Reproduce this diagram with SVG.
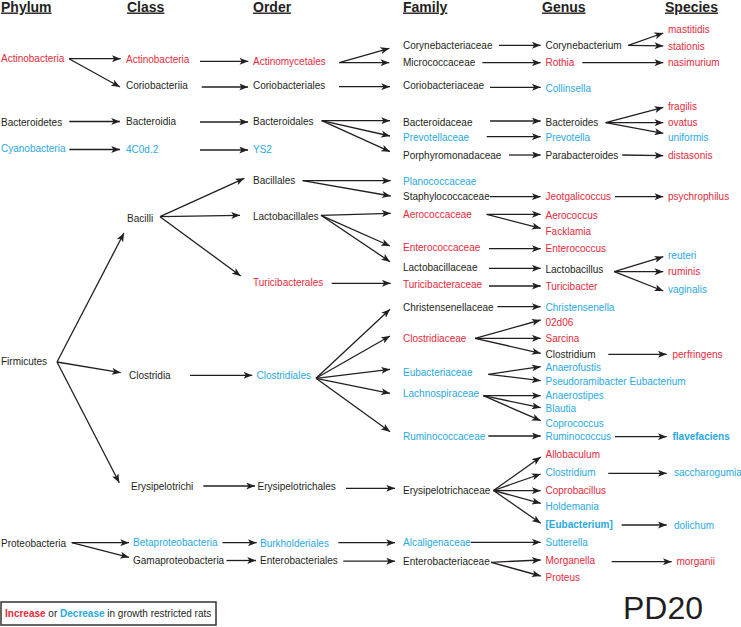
<svg xmlns="http://www.w3.org/2000/svg" width="741" height="627" viewBox="0 0 741 627">
<style>
text{font-family:"Liberation Sans",Arial,sans-serif;font-size:10px;fill:#231f20}
.h{font-size:14px;font-weight:bold;text-decoration:underline}
.r{fill:#e52a3c}
.b{fill:#29a9e0}
.bb{fill:#29a9e0;font-weight:bold}
.rb{fill:#e52a3c;font-weight:bold}
.c line{stroke:#231f20;stroke-width:1.3;marker-end:url(#ah)}
.pd{font-size:32px}
</style>
<defs>
<marker id="ah" viewBox="0 0 10 8" refX="10" refY="4" markerWidth="9" markerHeight="7" orient="auto" markerUnits="userSpaceOnUse"><path d="M0,0 L10,4 L0,8 L2.5,4 z" fill="#231f20"/></marker>
</defs>
<rect width="741" height="627" fill="#fff"/>
<g id="headers">
<text class="h" x="1" y="11.5">Phylum</text>
<text class="h" x="127" y="11.5">Class</text>
<text class="h" x="253" y="11.5">Order</text>
<text class="h" x="403" y="11.5">Family</text>
<text class="h" x="542" y="11.5">Genus</text>
<text class="h" x="665" y="11.5">Species</text>
</g>
<g id="p-actinobacteria"><text class="r" x="1" y="62">Actinobacteria</text></g>
<g id="p-bacteroidetes"><text x="1" y="126">Bacteroidetes</text></g>
<g id="p-cyanobacteria"><text class="b" x="1" y="152">Cyanobacteria</text></g>
<g id="p-firmicutes"><text x="1" y="365">Firmicutes</text></g>
<g id="p-proteobacteria"><text x="1" y="547">Proteobacteria</text></g>

<g id="c-actinobacteria"><text class="r" x="126" y="62.5">Actinobacteria</text></g>
<g id="c-coriobacteriia"><text x="126" y="89">Coriobacteriia</text></g>
<g id="c-bacteroidia"><text x="126" y="125">Bacteroidia</text></g>
<g id="c-4c0d2"><text class="b" x="126" y="153">4C0d.2</text></g>
<g id="c-bacilli"><text x="127" y="222">Bacilli</text></g>
<g id="c-clostridia"><text x="129" y="379">Clostridia</text></g>
<g id="c-erysipelotrichi"><text x="131" y="490">Erysipelotrichi</text></g>
<g id="c-betaproteobacteria"><text class="b" x="133" y="546">Betaproteobacteria</text></g>
<g id="c-gamaproteobacteria"><text x="133" y="564">Gamaproteobacteria</text></g>

<g id="o-actinomycetales"><text class="r" x="253" y="65">Actinomycetales</text></g>
<g id="o-coriobacteriales"><text x="253" y="89">Coriobacteriales</text></g>
<g id="o-bacteroidales"><text x="253" y="125">Bacteroidales</text></g>
<g id="o-ys2"><text class="b" x="253" y="153">YS2</text></g>
<g id="o-bacillales"><text x="253" y="184">Bacillales</text></g>
<g id="o-lactobacillales"><text x="253" y="219.5">Lactobacillales</text></g>
<g id="o-turicibacterales"><text class="r" x="253" y="286">Turicibacterales</text></g>
<g id="o-clostridiales"><text class="b" x="256.5" y="379">Clostridiales</text></g>
<g id="o-erysipelotrichales"><text x="257.5" y="490">Erysipelotrichales</text></g>
<g id="o-burkholderiales"><text class="b" x="260" y="546.5">Burkholderiales</text></g>
<g id="o-enterobacteriales"><text x="260" y="564">Enterobacteriales</text></g>

<g id="f-corynebacteriaceae"><text x="403" y="49">Corynebacteriaceae</text></g>
<g id="f-micrococcaceae"><text x="403" y="66">Micrococcaceae</text></g>
<g id="f-coriobacteriaceae"><text x="403" y="89">Coriobacteriaceae</text></g>
<g id="f-bacteroidaceae"><text x="403" y="126">Bacteroidaceae</text></g>
<g id="f-prevotellaceae"><text class="b" x="403" y="141">Prevotellaceae</text></g>
<g id="f-porphyromonadaceae"><text x="403" y="159">Porphyromonadaceae</text></g>
<g id="f-planococcaceae"><text class="b" x="403" y="184.5">Planococcaceae</text></g>
<g id="f-staphylococcaceae"><text x="403" y="200">Staphylococcaceae</text></g>
<g id="f-aerococcaceae"><text class="r" x="403" y="218">Aerococcaceae</text></g>
<g id="f-enterococcaceae"><text class="r" x="403" y="251">Enterococcaceae</text></g>
<g id="f-lactobacillaceae"><text x="403" y="271">Lactobacillaceae</text></g>
<g id="f-turicibacteraceae"><text class="r" x="403" y="287.5">Turicibacteraceae</text></g>
<g id="f-christensenellaceae"><text x="403" y="311">Christensenellaceae</text></g>
<g id="f-clostridiaceae"><text class="r" x="403" y="342">Clostridiaceae</text></g>
<g id="f-eubacteriaceae"><text class="b" x="403" y="376">Eubacteriaceae</text></g>
<g id="f-lachnospiraceae"><text class="b" x="403" y="397">Lachnospiraceae</text></g>
<g id="f-ruminococcaceae"><text class="b" x="403" y="439.5">Ruminococcaceae</text></g>
<g id="f-erysipelotrichaceae"><text x="403" y="493.5">Erysipelotrichaceae</text></g>
<g id="f-alcaligenaceae"><text class="b" x="403" y="546">Alcaligenaceae</text></g>
<g id="f-enterobacteriaceae"><text x="403" y="565">Enterobacteriaceae</text></g>

<g id="g-corynebacterium"><text x="545.5" y="49">Corynebacterium</text></g>
<g id="g-rothia"><text class="r" x="545.5" y="66">Rothia</text></g>
<g id="g-collinsella"><text class="b" x="545.5" y="92">Collinsella</text></g>
<g id="g-bacteroides"><text x="545.5" y="126">Bacteroides</text></g>
<g id="g-prevotella"><text class="b" x="545.5" y="141">Prevotella</text></g>
<g id="g-parabacteroides"><text x="545.5" y="159">Parabacteroides</text></g>
<g id="g-jeotgalicoccus"><text class="r" x="545.5" y="200">Jeotgalicoccus</text></g>
<g id="g-aerococcus"><text class="r" x="545.5" y="218.5">Aerococcus</text></g>
<g id="g-facklamia"><text class="r" x="545.5" y="235">Facklamia</text></g>
<g id="g-enterococcus"><text class="r" x="545.5" y="252">Enterococcus</text></g>
<g id="g-lactobacillus"><text x="545.5" y="273">Lactobacillus</text></g>
<g id="g-turicibacter"><text class="r" x="545.5" y="290">Turicibacter</text></g>
<g id="g-christensenella"><text class="b" x="545.5" y="311">Christensenella</text></g>
<g id="g-02d06"><text class="r" x="545.5" y="326">02d06</text></g>
<g id="g-sarcina"><text class="r" x="545.5" y="342">Sarcina</text></g>
<g id="g-clostridium-1"><text x="545.5" y="357.5">Clostridium</text></g>
<g id="g-anaerofustis"><text class="b" x="545.5" y="371">Anaerofustis</text></g>
<g id="g-pseudoramibacter"><text class="b" x="545.5" y="385">Pseudoramibacter Eubacterium</text></g>
<g id="g-anaerostipes"><text class="b" x="545.5" y="398.5">Anaerostipes</text></g>
<g id="g-blautia"><text class="b" x="545.5" y="412">Blautia</text></g>
<g id="g-coprococcus"><text class="b" x="545.5" y="427">Coprococcus</text></g>
<g id="g-ruminococcus"><text class="b" x="545.5" y="440">Ruminococcus</text></g>
<g id="g-allobaculum"><text class="r" x="545.5" y="457.5">Allobaculum</text></g>
<g id="g-clostridium-2"><text class="b" x="545.5" y="476">Clostridium</text></g>
<g id="g-coprobacillus"><text class="r" x="545.5" y="494">Coprobacillus</text></g>
<g id="g-holdemania"><text class="b" x="545.5" y="509.5">Holdemania</text></g>
<g id="g-eubacterium"><text class="bb" x="545.5" y="528">[Eubacterium]</text></g>
<g id="g-sutterella"><text class="b" x="545.5" y="546">Sutterella</text></g>
<g id="g-morganella"><text class="r" x="545.5" y="564">Morganella</text></g>
<g id="g-proteus"><text class="r" x="545.5" y="581">Proteus</text></g>

<g id="s-mastitidis"><text class="r" x="668" y="33">mastitidis</text></g>
<g id="s-stationis"><text class="r" x="668" y="50">stationis</text></g>
<g id="s-nasimurium"><text class="r" x="668" y="66">nasimurium</text></g>
<g id="s-fragilis"><text class="r" x="668" y="109.5">fragilis</text></g>
<g id="s-ovatus"><text class="r" x="668" y="125.5">ovatus</text></g>
<g id="s-uniformis"><text class="b" x="668" y="141">uniformis</text></g>
<g id="s-distasonis"><text class="r" x="668" y="159">distasonis</text></g>
<g id="s-psychrophilus"><text class="r" x="668" y="200">psychrophilus</text></g>
<g id="s-reuteri"><text class="b" x="668" y="259">reuteri</text></g>
<g id="s-ruminis"><text class="r" x="668" y="274.5">ruminis</text></g>
<g id="s-vaginalis"><text class="b" x="668" y="293">vaginalis</text></g>
<g id="s-perfringens"><text class="r" x="672.5" y="358">perfringens</text></g>
<g id="s-flavefaciens"><text class="bb" x="672.5" y="440">flavefaciens</text></g>
<g id="s-saccharogumia"><text class="b" x="674" y="476">saccharogumia</text></g>
<g id="s-dolichum"><text class="b" x="674" y="528.5">dolichum</text></g>
<g id="s-morganii"><text class="r" x="676.5" y="565">morganii</text></g>

<g id="connectors" class="c">
<line x1="69" y1="58.7" x2="120.7" y2="58.7"/>
<line x1="69" y1="58.7" x2="120" y2="87"/>
<line x1="69.3" y1="121.5" x2="120" y2="121.5"/>
<line x1="69.3" y1="149.5" x2="120" y2="149.5"/>
<line x1="57" y1="362" x2="124" y2="233"/>
<line x1="57" y1="362" x2="120.7" y2="372.7"/>
<line x1="57" y1="362" x2="119.3" y2="482.7"/>
<line x1="71.7" y1="542.7" x2="129" y2="542.7"/>
<line x1="71.7" y1="542.7" x2="129" y2="557.3"/>

<line x1="200" y1="61.3" x2="248.3" y2="61.3"/>
<line x1="201.7" y1="87" x2="248" y2="87"/>
<line x1="200" y1="122" x2="248" y2="122"/>
<line x1="200" y1="150" x2="248" y2="150"/>
<line x1="160" y1="216.7" x2="244.3" y2="178.3"/>
<line x1="160" y1="216.7" x2="240" y2="215.3"/>
<line x1="160" y1="216.7" x2="240.7" y2="276"/>
<line x1="190" y1="375.3" x2="252.3" y2="375.3"/>
<line x1="203.3" y1="486" x2="255" y2="486"/>
<line x1="222.5" y1="542.7" x2="256.7" y2="542.7"/>
<line x1="226.5" y1="560.5" x2="256" y2="560.5"/>

<line x1="339.3" y1="62.7" x2="389.3" y2="48.3"/>
<line x1="339.3" y1="62.7" x2="389.3" y2="62.7"/>
<line x1="339" y1="86.7" x2="390" y2="86.7"/>
<line x1="321.7" y1="120.7" x2="390" y2="120.7"/>
<line x1="321.7" y1="120.7" x2="390" y2="136"/>
<line x1="321.7" y1="120.7" x2="390" y2="151.7"/>
<line x1="302.7" y1="180.7" x2="390.7" y2="180.7"/>
<line x1="302.7" y1="180.7" x2="390.7" y2="196"/>
<line x1="321" y1="215.3" x2="390.7" y2="213.3"/>
<line x1="321" y1="215.3" x2="390" y2="246"/>
<line x1="321" y1="215.3" x2="390" y2="261.7"/>
<line x1="331.7" y1="283.3" x2="390.7" y2="283.3"/>
<line x1="316" y1="378.3" x2="390" y2="309.3"/>
<line x1="316" y1="378.3" x2="390" y2="336"/>
<line x1="316" y1="378.3" x2="390" y2="369.3"/>
<line x1="316" y1="378.3" x2="390" y2="393.3"/>
<line x1="316" y1="378.3" x2="390" y2="431.7"/>
<line x1="346" y1="488.3" x2="395" y2="488.3"/>
<line x1="338.3" y1="542.7" x2="395" y2="542.7"/>
<line x1="343.3" y1="561.2" x2="395" y2="561.2"/>

<line x1="499" y1="45.3" x2="540.7" y2="45.3"/>
<line x1="482.3" y1="62.7" x2="540.7" y2="62.7"/>
<line x1="490" y1="87.3" x2="540.7" y2="87.3"/>
<line x1="490" y1="121" x2="540.7" y2="121"/>
<line x1="486.7" y1="136.7" x2="540.7" y2="136.7"/>
<line x1="509" y1="155" x2="540.7" y2="155"/>
<line x1="490" y1="196.7" x2="540.7" y2="196.7"/>
<line x1="486.7" y1="214.3" x2="540.7" y2="214.3"/>
<line x1="486.7" y1="214.3" x2="540.7" y2="228.3"/>
<line x1="489" y1="248.7" x2="540.7" y2="248.7"/>
<line x1="489" y1="268.3" x2="540.7" y2="268.3"/>
<line x1="489" y1="286" x2="540.7" y2="286"/>
<line x1="497.3" y1="306.7" x2="540.7" y2="306.7"/>
<line x1="475" y1="338.3" x2="540.7" y2="320"/>
<line x1="475" y1="338.3" x2="540.7" y2="338.3"/>
<line x1="475" y1="338.3" x2="540.7" y2="353.3"/>
<line x1="488.3" y1="374.3" x2="540.7" y2="366.7"/>
<line x1="488.3" y1="374.3" x2="540.7" y2="380.7"/>
<line x1="483.3" y1="395.7" x2="540.7" y2="395.7"/>
<line x1="483.3" y1="395.7" x2="540.7" y2="407.7"/>
<line x1="483.3" y1="395.7" x2="540.7" y2="420.7"/>
<line x1="488.3" y1="436" x2="540.7" y2="436"/>
<line x1="493.5" y1="490.5" x2="540.7" y2="457"/>
<line x1="493.5" y1="490.5" x2="540.7" y2="474"/>
<line x1="493.5" y1="490.5" x2="540.7" y2="490.7"/>
<line x1="493.5" y1="490.5" x2="540.7" y2="503.3"/>
<line x1="493.5" y1="490.5" x2="540.7" y2="523.3"/>
<line x1="471" y1="542.3" x2="540.7" y2="542.3"/>
<line x1="491" y1="562.3" x2="540.7" y2="560"/>
<line x1="491" y1="562.3" x2="540.7" y2="576"/>

<line x1="628.3" y1="45.3" x2="663.3" y2="33"/>
<line x1="628.3" y1="45.3" x2="663.3" y2="45.8"/>
<line x1="582.3" y1="62.7" x2="663.3" y2="62.7"/>
<line x1="605.7" y1="122.7" x2="663.3" y2="107.3"/>
<line x1="605.7" y1="122.7" x2="663.3" y2="122.7"/>
<line x1="605.7" y1="122.7" x2="663.3" y2="133.3"/>
<line x1="622.3" y1="155" x2="663.3" y2="155.7"/>
<line x1="615" y1="196.7" x2="663.3" y2="196.7"/>
<line x1="614.3" y1="271.7" x2="663.3" y2="256.7"/>
<line x1="614.3" y1="271.7" x2="663.3" y2="271.7"/>
<line x1="614.3" y1="271.7" x2="663.3" y2="291"/>
<line x1="608.3" y1="354.3" x2="666.7" y2="354.3"/>
<line x1="615" y1="436.7" x2="666.7" y2="436.7"/>
<line x1="608.3" y1="473.3" x2="666.7" y2="473.3"/>
<line x1="621.7" y1="525" x2="666.7" y2="525"/>
<line x1="611.7" y1="561.7" x2="671.7" y2="561.7"/>
</g>

<g id="legend">
<rect x="1" y="602" width="215" height="23" fill="none" stroke="#333" stroke-width="1.5"/>
<text x="5" y="617"><tspan class="rb">Increase</tspan> or <tspan class="bb">Decrease</tspan> in growth restricted rats</text>
</g>
<g id="title"><text class="pd" x="623" y="619">PD20</text></g>
</svg>
